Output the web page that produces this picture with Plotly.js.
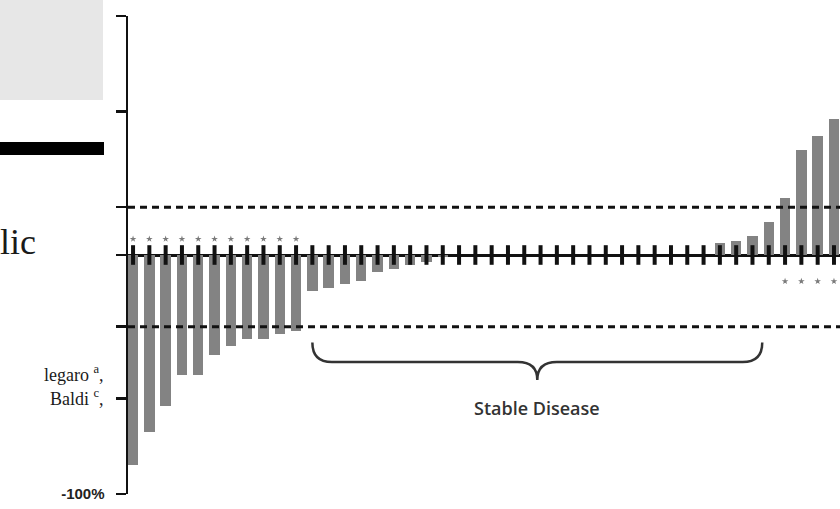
<!DOCTYPE html>
<html>
<head>
<meta charset="utf-8">
<script src="https://cdn.plot.ly/plotly-3.0.1.min.js"></script>
<style>
html,body{margin:0;padding:0;background:#fff;}
#chart{width:840px;height:509px;}
</style>
</head>
<body>
<div id="chart"></div>
<script>
// Best % change from baseline per patient (waterfall)
const patients = ["P1","P2","P3","P4","P5","P6","P7","P8","P9","P10","P11","P12","P13","P14","P15","P16","P17","P18","P19","P20","P21","P22","P23","P24","P25","P26","P27","P28","P29","P30","P31","P32","P33","P34","P35","P36","P37","P38","P39","P40","P41","P42","P43","P44"];
const changePct = [-88,-74,-63,-50,-50,-42,-38,-35,-35,-33,-32,-15,-14,-12,-11,-7,-6,-4,-3,-1,0,0,0,0,0,0,0,0,0,0,0,0,0,0,0,0,5,6,8,14,24,44,50,57];
const flagAbove = [1,1,1,1,1,1,1,1,1,1,1,0,0,0,0,0,0,0,0,0,0,0,0,0,0,0,0,0,0,0,0,0,0,0,0,0,0,0,0,0,0,0,0,0];
const flagBelow = [0,0,0,0,0,0,0,0,0,0,0,0,0,0,0,0,0,0,0,0,0,0,0,0,0,0,0,0,0,0,0,0,0,0,0,0,0,0,0,0,1,1,1,1];
const yLabelVals = [-100];
const yLabelText = ["-100%"];
const yOtherTicks = [-60,-30,0,20,60,100];
const thresholds = [20,-30];
const sdLabel = "Stable Disease";

const xs = patients.map((_, i) => i);
const aboveX = xs.filter(i => flagAbove[i]);
const belowX = xs.filter(i => flagBelow[i]);

const traces = [
  {type:'bar', x: xs, y: changePct, width: 0.64,
   marker:{color:'#838383', line:{width:0}}, hoverinfo:'skip'},
  {type:'scatter', mode:'markers', x: xs, y: xs.map(() => 0),
   marker:{symbol:'line-ns', size:14, line:{width:4, color:'#111'}}, hoverinfo:'skip'},
  {type:'scatter', mode:'markers', x: aboveX, y: aboveX.map(() => 6.7),
   marker:{symbol:'star', size:5, color:'#7a7a7a'}, hoverinfo:'skip'},
  {type:'scatter', mode:'markers', x: belowX, y: belowX.map(() => -11),
   marker:{symbol:'star', size:5, color:'#7a7a7a'}, hoverinfo:'skip'}
];

// brace under stable disease range
const bx0 = 11.0, bx1 = 38.6, bm = 24.8, yTop = -36.6, yMid = -44.8, yTip = -52.3;
const bracePath = `M ${bx0},${yTop} Q ${bx0},${yMid} ${bx0+1.2},${yMid} L ${bm-1.2},${yMid} Q ${bm},${yMid} ${bm},${yTip} Q ${bm},${yMid} ${bm+1.2},${yMid} L ${bx1-1.2},${yMid} Q ${bx1},${yMid} ${bx1},${yTop}`;

// pixel helpers for the overlaid page fragment at left
const L = 128, W = 712, T = 16, H = 478;
const px = v => (v - L) / W;
const py = v => (T + H - v) / H;

const shapes = thresholds.map(t => ({
  type:'line', xref:'paper', yref:'y', x0:0, x1:1, y0:t, y1:t,
  line:{color:'#111', width:3, dash:'7px,5px'}
}));
shapes.push({type:'path', xref:'x', yref:'y', path: bracePath, line:{color:'#333', width:2.5}});
shapes.push({type:'rect', xref:'paper', yref:'paper', x0:px(0), x1:px(103), y0:py(0), y1:py(100),
  fillcolor:'#e7e7e7', line:{width:0}, layer:'above'});
shapes.push({type:'rect', xref:'paper', yref:'paper', x0:px(0), x1:px(104), y0:py(142), y1:py(155),
  fillcolor:'#000', line:{width:0}, layer:'above'});

const annotations = [
  {xref:'x', yref:'y', x: bm, y: -64, text: sdLabel, showarrow:false,
   font:{family:'Open Sans', size:18, color:'#333', weight:600}},
  {xref:'paper', yref:'paper', x: px(-2), y: py(242), xanchor:'left', yanchor:'middle', text:'lic',
   showarrow:false, font:{family:'Liberation Serif', size:36, color:'#1a1a1a'}},
  {xref:'paper', yref:'paper', x: px(106), y: py(373), xanchor:'right', yanchor:'middle', text:'legaro <sup>a</sup>,',
   showarrow:false, font:{family:'Liberation Serif', size:18, color:'#1a1a1a'}},
  {xref:'paper', yref:'paper', x: px(106), y: py(397), xanchor:'right', yanchor:'middle', text:'Baldi <sup>c</sup>,',
   showarrow:false, font:{family:'Liberation Serif', size:18, color:'#1a1a1a'}}
];

const layout = {
  width:840, height:509,
  margin:{l:L, r:0, t:T, b:509-T-H},
  paper_bgcolor:'#fff', plot_bgcolor:'#fff',
  showlegend:false,
  bargap:0,
  xaxis:{visible:false, range:[-0.31, 43.37], fixedrange:true},
  yaxis:{range:[-100,100], tickmode:'array', tickvals:yLabelVals, ticktext:yLabelText,
    showgrid:false, zeroline:true, zerolinecolor:'#111', zerolinewidth:3,
    showline:true, linecolor:'#111', linewidth:2.5,
    ticks:'outside', ticklen:10, tickwidth:2.5, tickcolor:'#111',
    ticklabelstandoff:8,
    tickfont:{family:'Liberation Sans', size:15, color:'#222', weight:'bold'},
    minor:{tickmode:'array', tickvals:yOtherTicks, ticks:'outside', ticklen:10, tickwidth:2.5, tickcolor:'#111', showgrid:false}},
  shapes: shapes,
  annotations: annotations
};

Plotly.newPlot('chart', traces, layout, {staticPlot:true, displayModeBar:false});
</script>
</body>
</html>
